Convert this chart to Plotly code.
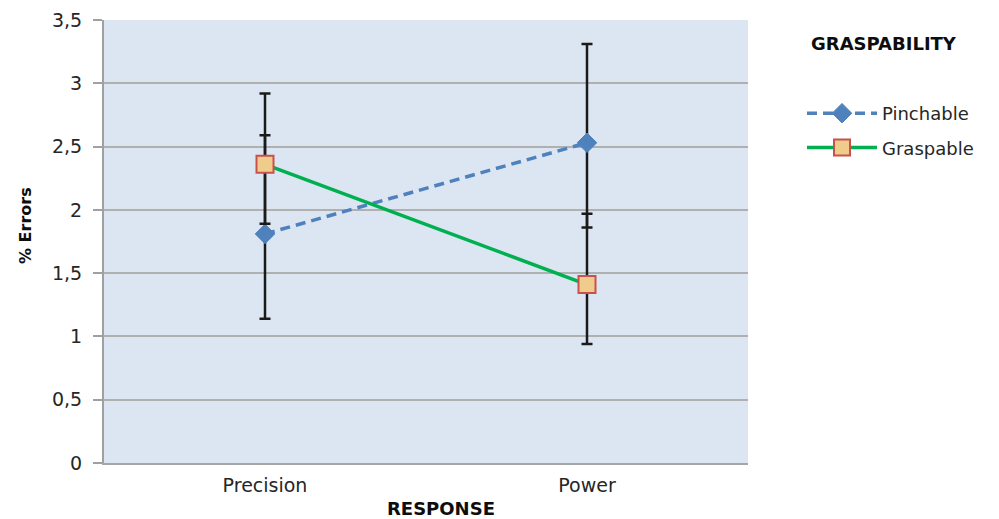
import plotly.graph_objects as go

# Response conditions on the x axis
responses = ["Precision", "Power"]

# Mean % errors per graspability condition
pinchable = [1.81, 2.53]
graspable = [2.36, 1.41]

# Asymmetric error bar extents (upper / lower)
pinchable_err_plus = [0.78, 0.78]
pinchable_err_minus = [0.67, 0.67]
graspable_err_plus = [0.56, 0.56]
graspable_err_minus = [0.47, 0.47]

y_ticks = [0, 0.5, 1, 1.5, 2, 2.5, 3, 3.5]

FONT = "DejaVu Sans"
TEXT = "#262626"

# plot area in pixels
PL, PR, PT, PB = 104, 748, 20, 463
PW, PH = PR - PL, PB - PT

fig = go.Figure()

fig.add_trace(go.Scatter(
    x=responses, y=pinchable, name="Pinchable", legendgroup="p",
    mode="lines+markers",
    line=dict(color="#4F81BD", width=3.5, dash="10px,6px"),
    marker=dict(symbol="diamond", size=15, color="#4F81BD",
                line=dict(color="#4F81BD", width=1)),
    error_y=dict(type="data", symmetric=False,
                 array=pinchable_err_plus, arrayminus=pinchable_err_minus,
                 color="#1A1A1A", thickness=2.5, width=5.5),
))

fig.add_trace(go.Scatter(
    x=responses, y=graspable, name="Graspable", legendgroup="g",
    mode="lines+markers",
    line=dict(color="#00B050", width=3.5),
    marker=dict(symbol="square", size=17, color="#F0CC8C",
                line=dict(color="#C9504D", width=2)),
    error_y=dict(type="data", symmetric=False,
                 array=graspable_err_plus, arrayminus=graspable_err_minus,
                 color="#1A1A1A", thickness=2.5, width=5.5),
))

fig.update_layout(
    width=999, height=519,
    margin=dict(l=PL, r=999 - PR, t=PT, b=519 - PB),
    paper_bgcolor="white",
    plot_bgcolor="#DCE6F2",
    separators=",.",
    font=dict(family=FONT, size=19, color=TEXT),
    showlegend=True,
    legend=dict(
        x=(802 - PL) / PW, xanchor="left",
        y=(PB - 95) / PH, yanchor="top",
        font=dict(family=FONT, size=18, color=TEXT),
        itemwidth=70, tracegroupgap=8,
        bgcolor="rgba(0,0,0,0)",
    ),
    annotations=[
        dict(text="<b>GRASPABILITY</b>", xref="paper", yref="paper",
             x=(884 - PL) / PW, y=(PB - 43) / PH,
             xanchor="center", yanchor="middle", showarrow=False,
             font=dict(family=FONT, size=18, color="#0D0D0D")),
        dict(text="<b>RESPONSE</b>", xref="paper", yref="paper",
             x=(441 - PL) / PW, y=-(508 - PB) / PH,
             xanchor="center", yanchor="middle", showarrow=False,
             font=dict(family=FONT, size=18, color="#0D0D0D")),
        dict(text="<b>% Errors</b>", xref="paper", yref="paper",
             x=-(PL - 26) / PW, y=(PB - 226) / PH,
             xanchor="center", yanchor="middle", showarrow=False,
             textangle=-90,
             font=dict(family=FONT, size=16, color="#0D0D0D")),
    ],
)

fig.update_xaxes(
    range=[-0.5, 1.5], type="category",
    showgrid=False, zeroline=False,
    showline=True, linecolor="#A6A6A6", linewidth=2,
    ticks="", ticklabelstandoff=4,
    tickfont=dict(family=FONT, size=19, color=TEXT),
)

fig.update_yaxes(
    range=[0, 3.5], tickvals=y_ticks,
    showgrid=True, gridcolor="#B0B0B0", gridwidth=1.5,
    zeroline=False, automargin=False,
    showline=True, linecolor="#A0A0A0", linewidth=2,
    ticks="outside", ticklen=9, tickcolor="#A0A0A0", tickwidth=1.5,
    ticklabelstandoff=7,
    tickfont=dict(family=FONT, size=19, color=TEXT),
)

fig.write_html("out.html")
